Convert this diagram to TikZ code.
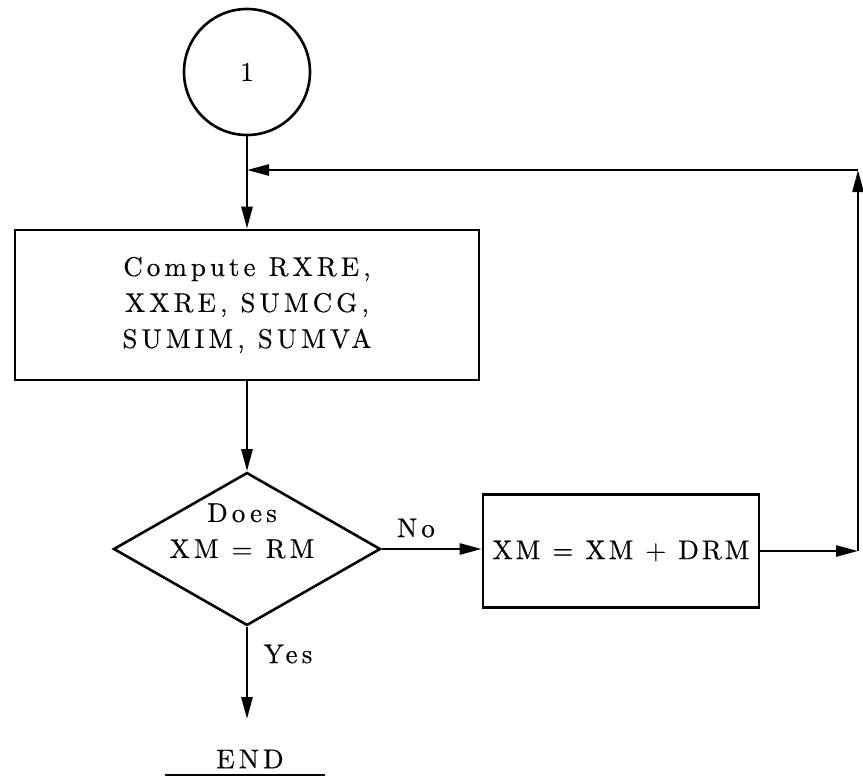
\documentclass[tikz,border=0pt]{standalone}
\usepackage{fontspec}
\setmainfont{lmroman10-regular.otf}
\usetikzlibrary{shapes.geometric,arrows.meta}
\begin{document}
\begin{tikzpicture}[x=1pt,y=-1pt,
  every node/.style={font=\fontsize{27}{36}\selectfont\addfontfeatures{LetterSpace=15,FakeBold=0.4}},
  ln/.style={line width=2.6pt},
  arr/.style={ln,-{Triangle[length=22pt,width=11pt]}},
  procbox/.style={draw,line width=2.6pt,inner sep=0pt,align=center},
  decbox/.style={draw,diamond,line width=2.6pt,inner sep=0pt,aspect=1.745}
]
\useasboundingbox (0,0) rectangle (863,782);
\node[draw,circle,line width=2.6pt,minimum size=126pt,inner sep=0pt] (c) at (247,72) {1};
\node[procbox,minimum width=464pt,minimum height=150pt] (b1) at (247,305)
  {Compute RXRE,\\XXRE, SUMCG,\\SUMIM, SUMVA};
\node[decbox,minimum width=267pt,minimum height=153pt] (d) at (247,549) {};
\node[align=center] (dt) at (242,531) {Does\\XM = RM};
\node[procbox,minimum width=276pt,minimum height=113pt,
  font=\fontsize{27}{36}\selectfont\addfontfeatures{LetterSpace=11,FakeBold=0.4}] (b2) at (621,551) {XM = XM + DRM};
\coordinate (j) at (247,170);
\coordinate (r) at (858,170);
\coordinate (r2) at (858,551);
\coordinate (e) at (247,719);
\node (no) at (416,528) {No};
\node (yes) at (288,654) {Yes};
\node (end) at (250,759) {END};
\draw[ln] (165,775) -- (325,775);
\draw[arr] (c.south) -- (b1.north);
\draw[arr] (b1.south) -- (d.north);
\draw[arr] (d.east) -- (b2.west |- d.east);
\draw[arr] (b2.east) -- (r2);
\draw[arr] (r2) -- (r);
\draw[arr] (r) -- (j);
\draw[arr] (d.south) -- (e);
\end{tikzpicture}
\end{document}
